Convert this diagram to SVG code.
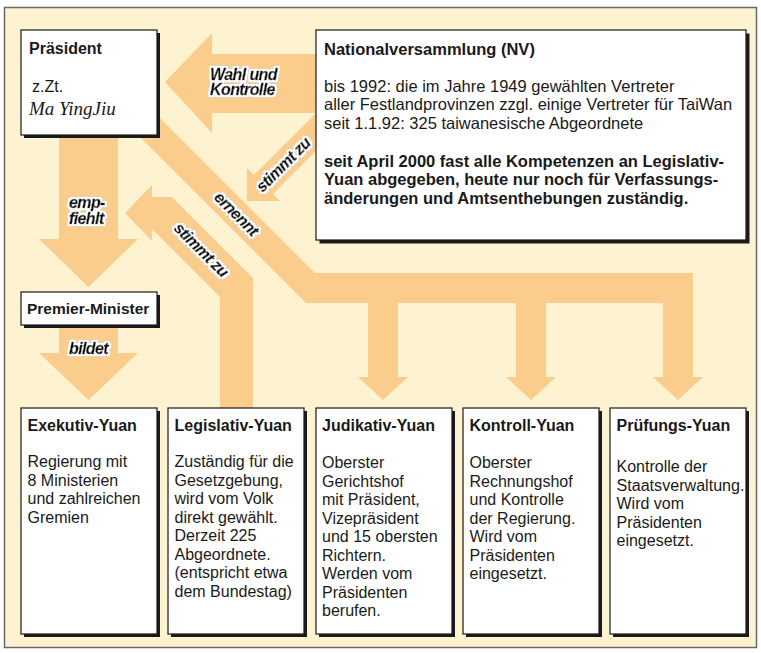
<svg xmlns="http://www.w3.org/2000/svg" width="761" height="653" viewBox="0 0 761 653">
<defs>
<style>
.frame{fill:#FEF3D0;stroke:#6a6a6a;stroke-width:1.5}
.arr{fill:#FACD8C}
.shadow{fill:#1a1a1a}
.box{fill:#ffffff;stroke:#1a1a1a;stroke-width:1.2}
text{font-family:"Liberation Sans",Arial,sans-serif;fill:#1a1a1a}
.t{font-size:16px;font-weight:bold}
.b{font-size:16px}
.nv{font-size:16.5px}
.nvb{font-size:16.5px;font-weight:bold}
.lbl{font-size:16px;font-weight:bold;font-style:italic;letter-spacing:-0.6px;fill:#111;stroke:#111;stroke-width:0.45}
.name{font-family:"Liberation Serif","Times New Roman",serif;font-style:italic;font-size:19px}
</style>
<filter id="halo" filterUnits="userSpaceOnUse" x="0" y="0" width="761" height="653">
<feMorphology in="SourceAlpha" operator="dilate" radius="2.2" result="d2"/>
<feFlood flood-color="#8a8a8a"/>
<feComposite in2="d2" operator="in" result="dark"/>
<feMorphology in="SourceAlpha" operator="dilate" radius="1.5" result="d1"/>
<feFlood flood-color="#ffffff"/>
<feComposite in2="d1" operator="in" result="white"/>
<feMerge><feMergeNode in="dark"/><feMergeNode in="white"/><feMergeNode in="SourceGraphic"/></feMerge>
</filter>
</defs>

<rect class="frame" x="4.5" y="7.5" width="752" height="640"/>

<g id="connectors">
<!-- Präsident -> Premier (empfiehlt) -->
<polygon class="arr" points="59,120 118,120 118,239 138,239 88.5,287 39,239 59,239"/>
<!-- Premier -> Exekutiv (bildet) -->
<polygon class="arr" points="59,320 118,320 118,353 138,353 88.5,400 39,353 59,353"/>
<!-- NV -> Präsident (Wahl und Kontrolle) -->
<polygon class="arr" points="330,54 212,54 212,33 165,82 212,133 212,113 330,113"/>
<!-- NV stimmt zu -->
<polygon class="arr" points="330,99 254,175 247,168 247,201 280,201 273,194 330,137"/>
<!-- Präsident ernennt -> Judikativ, Kontroll, Prüfungs -->
<polygon class="arr" points="130,88 315,273 693,273 693,377 703,377 678,400 653,377 663,377 663,303 546,303 546,377 556,377 531,400 506,377 516,377 516,303 398,303 398,377 408,377 383,400 358,377 368,377 368,303 306,303 110,107"/>
<!-- Legislativ stimmt zu -->
<polygon class="arr" points="220,412 220,297 152,229 152,241 125,213 152,185 152,197 172,197 253,278 253,412"/>

<g id="labels" filter="url(#halo)">
<text class="lbl" x="210" y="79.5">Wahl und</text>
<text class="lbl" x="210" y="95">Kontrolle</text>
<text class="lbl" x="69" y="208">emp-</text>
<text class="lbl" x="69" y="224">fiehlt</text>
<text class="lbl" x="69" y="354">bildet</text>
<text class="lbl" text-anchor="middle" transform="translate(283.5,165) rotate(-45)" y="5">stimmt zu</text>
<text class="lbl" text-anchor="middle" transform="translate(236,214) rotate(45)" y="5">ernennt</text>
<text class="lbl" text-anchor="middle" transform="translate(201,250) rotate(45)" y="5">stimmt zu</text>
</g>
</g>

<g id="praesident">
<rect class="shadow" x="24" y="33" width="136" height="105"/>
<rect class="box" x="21" y="30" width="136" height="105"/>
<text class="t" x="29" y="54">Präsident</text>
<text class="b" x="32" y="92">z.Zt.</text>
<text class="name" x="29" y="115">Ma YingJiu</text>
</g>

<g id="nationalversammlung">
<rect class="shadow" x="319.5" y="33.5" width="430" height="210"/>
<rect class="box" x="316" y="30" width="430" height="210"/>
<text class="nvb" x="324" y="55">Nationalversammlung (NV)</text>
<text class="nv" x="324" y="91.5">bis 1992: die im Jahre 1949 gewählten Vertreter</text>
<text class="nv" x="324" y="110">aller Festlandprovinzen zzgl. einige Vertreter für TaiWan</text>
<text class="nv" x="324" y="128.5">seit 1.1.92: 325 taiwanesische Abgeordnete</text>
<text class="nvb" x="324" y="166.5">seit April 2000 fast alle Kompetenzen an Legislativ-</text>
<text class="nvb" x="324" y="185">Yuan abgegeben, heute nur noch für Verfassungs-</text>
<text class="nvb" x="324" y="203.5">änderungen und Amtsenthebungen zuständig.</text>
</g>

<g id="premier">
<rect class="shadow" x="24" y="295" width="136" height="33"/>
<rect class="box" x="21" y="292" width="136" height="33"/>
<text class="t" x="27" y="313.5" style="font-size:15.5px">Premier-Minister</text>
</g>

<g id="exekutiv">
<rect class="shadow" x="24" y="411" width="136" height="226"/>
<rect class="box" x="21" y="408" width="136" height="226"/>
<text class="t" x="27.5" y="431">Exekutiv-Yuan</text>
<text class="b" x="27.5" y="467">Regierung mit</text>
<text class="b" x="27.5" y="485.5">8 Ministerien</text>
<text class="b" x="27.5" y="504">und zahlreichen</text>
<text class="b" x="27.5" y="522.5">Gremien</text>
</g>

<g id="legislativ">
<rect class="shadow" x="171" y="411" width="136" height="226"/>
<rect class="box" x="168" y="408" width="136" height="226"/>
<text class="t" x="174.5" y="431">Legislativ-Yuan</text>
<text class="b" x="174.5" y="467">Zuständig für die</text>
<text class="b" x="174.5" y="485.5">Gesetzgebung,</text>
<text class="b" x="174.5" y="504">wird vom Volk</text>
<text class="b" x="174.5" y="522.5">direkt gewählt.</text>
<text class="b" x="174.5" y="541">Derzeit 225</text>
<text class="b" x="174.5" y="559.5">Abgeordnete.</text>
<text class="b" x="174.5" y="578">(entspricht etwa</text>
<text class="b" x="174.5" y="596.5">dem Bundestag)</text>
</g>

<g id="judikativ">
<rect class="shadow" x="319" y="411" width="136" height="226"/>
<rect class="box" x="316" y="408" width="136" height="226"/>
<text class="t" x="322" y="431">Judikativ-Yuan</text>
<text class="b" x="322" y="468">Oberster</text>
<text class="b" x="322" y="486.5">Gerichtshof</text>
<text class="b" x="322" y="505">mit Präsident,</text>
<text class="b" x="322" y="523.5">Vizepräsident</text>
<text class="b" x="322" y="542">und 15 obersten</text>
<text class="b" x="322" y="560.5">Richtern.</text>
<text class="b" x="322" y="579">Werden vom</text>
<text class="b" x="322" y="597.5">Präsidenten</text>
<text class="b" x="322" y="616">berufen.</text>
</g>

<g id="kontroll">
<rect class="shadow" x="466" y="411" width="136" height="226"/>
<rect class="box" x="463" y="408" width="136" height="226"/>
<text class="t" x="469.5" y="431">Kontroll-Yuan</text>
<text class="b" x="469.5" y="468">Oberster</text>
<text class="b" x="469.5" y="486.5">Rechnungshof</text>
<text class="b" x="469.5" y="505">und Kontrolle</text>
<text class="b" x="469.5" y="523.5">der Regierung.</text>
<text class="b" x="469.5" y="542">Wird vom</text>
<text class="b" x="469.5" y="560.5">Präsidenten</text>
<text class="b" x="469.5" y="579">eingesetzt.</text>
</g>

<g id="pruefungs">
<rect class="shadow" x="613" y="411" width="136" height="226"/>
<rect class="box" x="610" y="408" width="136" height="226"/>
<text class="t" x="616.5" y="431">Prüfungs-Yuan</text>
<text class="b" x="616.5" y="472">Kontrolle der</text>
<text class="b" x="616.5" y="490.5" textLength="128" lengthAdjust="spacingAndGlyphs">Staatsverwaltung.</text>
<text class="b" x="616.5" y="509">Wird vom</text>
<text class="b" x="616.5" y="527.5">Präsidenten</text>
<text class="b" x="616.5" y="546">eingesetzt.</text>
</g>
</svg>
